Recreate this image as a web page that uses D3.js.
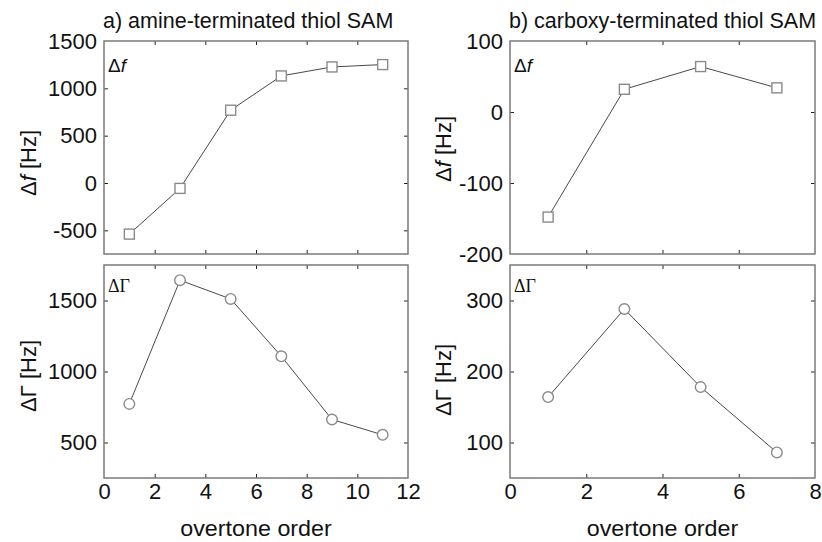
<!DOCTYPE html>
<html>
<head>
<meta charset="utf-8">
<script src="https://cdn.jsdelivr.net/npm/d3@7"></script>
<style>
  body { margin: 0; background: #fff; }
  text { font-family: "Liberation Sans", Arial, sans-serif; fill: #111; }
</style>
</head>
<body>
<div id="chart"></div>
<script>
const overtonesA = [1, 3, 5, 7, 9, 11];
const dfA = [-540, -57, 769, 1131, 1226, 1251];
const dGammaA = [772, 1643, 1511, 1107, 662, 554];

const overtonesB = [1, 3, 5, 7];
const dfB = [-148, 32, 64, 34];
const dGammaB = [164, 288, 178, 86];

const xTicksA = [0, 2, 4, 6, 8, 10, 12];
const xTicksB = [0, 2, 4, 6, 8];
const yTicksDfA = [-500, 0, 500, 1000, 1500];
const yTicksGA = [500, 1000, 1500];
const yTicksDfB = [-200, -100, 0, 100];
const yTicksGB = [100, 200, 300];

const titleA = 'a) amine-terminated thiol SAM';
const titleB = 'b) carboxy-terminated thiol SAM';
const xLabel = 'overtone order';

const WIDTH = 822, HEIGHT = 542;
const FRAME = '#7a7a7a';
const LINE = '#333';
const MARK = '#8a8a8a';
const TICK = 4;

const svg = d3.select('#chart').append('svg')
  .attr('width', WIDTH)
  .attr('height', HEIGHT);

const cols = [
  { x0: 104, x1: 408, xDomain: [0, 12], xTicks: xTicksA, title: titleA,
    x: overtonesA, df: dfA, dg: dGammaA,
    dfDomain: [-750, 1500], dfTicks: yTicksDfA, gDomain: [250, 1750], gTicks: yTicksGA,
    labelX: 36, dfLabelY: 163, gLabelY: 376 },
  { x0: 510, x1: 815, xDomain: [0, 8], xTicks: xTicksB, title: titleB,
    x: overtonesB, df: dfB, dg: dGammaB,
    dfDomain: [-200, 100], dfTicks: yTicksDfB, gDomain: [50, 350], gTicks: yTicksGB,
    labelX: 451, dfLabelY: 149, gLabelY: 380 }
];

const rows = [
  { y0: 41, y1: 254, key: 'df', marker: 'square' },
  { y0: 265, y1: 478, key: 'dg', marker: 'circle' }
];

const fmt = (d) => String(d);

cols.forEach((c) => {
  const xScale = d3.scaleLinear().domain(c.xDomain).range([c.x0, c.x1]);

  svg.append('text')
    .attr('x', c.x0 - 1)
    .attr('y', 28)
    .attr('font-size', 21.5)
    .text(c.title);

  rows.forEach((r, ri) => {
    const isDf = r.key === 'df';
    const yScale = d3.scaleLinear()
      .domain(isDf ? c.dfDomain : c.gDomain)
      .range([r.y1, r.y0]);
    const yTicks = isDf ? c.dfTicks : c.gTicks;
    const g = svg.append('g');

    // inner ticks on all four sides
    const axes = [
      { ax: d3.axisBottom(xScale).tickValues(c.xTicks).tickPadding(5), t: 'translate(0,' + r.y1 + ')', labels: ri === 1 },
      { ax: d3.axisTop(xScale).tickValues(c.xTicks), t: 'translate(0,' + r.y0 + ')', labels: false },
      { ax: d3.axisLeft(yScale).tickValues(yTicks).tickPadding(7), t: 'translate(' + c.x0 + ',0)', labels: true },
      { ax: d3.axisRight(yScale).tickValues(yTicks), t: 'translate(' + c.x1 + ',0)', labels: false }
    ];
    axes.forEach((a, i) => {
      const ag = g.append('g')
        .attr('transform', a.t)
        .call(a.ax.tickSizeInner(-TICK).tickSizeOuter(0).tickFormat(fmt));
      ag.select('.domain').remove();
      ag.selectAll('line').attr('stroke', '#222').attr('stroke-width', 1);
      ag.selectAll('text')
        .attr('font-size', 22)
        .attr('fill', '#111')
        .style('font-family', '"Liberation Sans", Arial, sans-serif');
      if (!a.labels) ag.selectAll('text').remove();
      // hide ticks that sit on the frame corners
      ag.selectAll('.tick').filter((d) => {
        const s = i < 2 ? xScale : yScale;
        const v = s(d);
        return i < 2 ? (v <= c.x0 + 0.5 || v >= c.x1 - 0.5) : (v <= r.y0 + 0.5 || v >= r.y1 - 0.5);
      }).select('line').remove();
    });

    g.append('rect')
      .attr('x', c.x0)
      .attr('y', r.y0)
      .attr('width', c.x1 - c.x0)
      .attr('height', r.y1 - r.y0)
      .attr('fill', 'none')
      .attr('stroke', FRAME)
      .attr('stroke-width', 1.5);

    const vals = c[r.key];
    const pts = c.x.map((x, i) => [x, vals[i]]);

    g.append('path')
      .datum(pts)
      .attr('fill', 'none')
      .attr('stroke', LINE)
      .attr('stroke-width', 0.9)
      .attr('d', d3.line().x((d) => xScale(d[0])).y((d) => yScale(d[1])));

    if (r.marker === 'square') {
      g.selectAll('.pt').data(pts).enter()
        .append('rect')
        .attr('x', (d) => xScale(d[0]) - 5)
        .attr('y', (d) => yScale(d[1]) - 5)
        .attr('width', 10)
        .attr('height', 10)
        .attr('fill', '#fff')
        .attr('stroke', MARK)
        .attr('stroke-width', 1.4);
    } else {
      g.selectAll('.pt').data(pts).enter()
        .append('circle')
        .attr('cx', (d) => xScale(d[0]))
        .attr('cy', (d) => yScale(d[1]))
        .attr('r', 5.3)
        .attr('fill', '#fff')
        .attr('stroke', MARK)
        .attr('stroke-width', 1.4);
    }

    // panel annotation
    if (isDf) {
      const t = g.append('text')
        .attr('x', c.x0 + 4)
        .attr('y', r.y0 + 31)
        .attr('font-size', 19);
      t.append('tspan').text('Δ');
      t.append('tspan').attr('font-style', 'italic').text('f');
    } else {
      g.append('text')
        .attr('x', c.x0 + 4)
        .attr('y', r.y0 + 27)
        .attr('font-size', 18)
        .style('font-family', '"Liberation Serif", "Times New Roman", serif')
        .text('ΔΓ');
    }

    // y axis label
    const ly = isDf ? c.dfLabelY : c.gLabelY;
    const yl = svg.append('text')
      .attr('transform', 'translate(' + c.labelX + ',' + ly + ') rotate(-90)')
      .attr('text-anchor', 'middle')
      .attr('font-size', 22);
    if (isDf) {
      yl.append('tspan').text('Δ');
      yl.append('tspan').attr('font-style', 'italic').text('f');
      yl.append('tspan').text(' [Hz]');
    } else {
      yl.text('ΔΓ [Hz]');
    }
  });

  svg.append('text')
    .attr('transform', 'translate(' + ((c.x0 + c.x1) / 2) + ',536) scale(1.06,1)')
    .attr('text-anchor', 'middle')
    .attr('font-size', 22)
    .text(xLabel);
});
</script>
</body>
</html>
